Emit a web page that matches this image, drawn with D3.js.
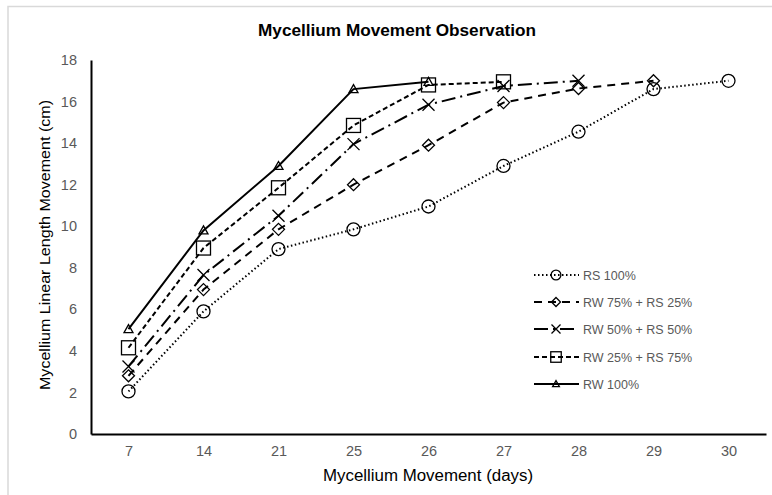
<!DOCTYPE html>
<html><head><meta charset="utf-8">
<script src="https://cdn.jsdelivr.net/npm/d3@7"></script>
<style>body{margin:0;background:#fff}svg{display:block}</style>
</head><body><svg id="c" width="772" height="495"></svg>
<script>
const days = ["7","14","21","25","26","27","28","29","30"];
const yTicks = [0,2,4,6,8,10,12,14,16,18];
const seriesNames = ["RS 100%","RW 75% + RS 25%","RW 50% + RS 50%","RW 25% + RS 75%","RW 100%"];
const rs100 = [2.05,5.9,8.9,9.85,10.95,12.9,14.55,16.6,17.0];
const rw75 = [2.8,6.95,9.85,12.0,13.9,15.95,16.63,17.0];
const rw50 = [3.25,7.65,10.5,13.95,15.85,16.75,17.0];
const rw25 = [4.15,8.95,11.85,14.85,16.8,16.95];
const rw100 = [5.05,9.8,12.9,16.6,16.95];
const seriesValues = [rs100,rw75,rw50,rw25,rw100];

const styles = [
  {dash:"1.5,2.5", marker:"circle"},
  {dash:"8,6", marker:"diamond"},
  {dash:"14,5,2,5", marker:"x"},
  {dash:"5,3", marker:"square"},
  {dash:null, marker:"triangle"}
];

const svg = d3.select("#c");
svg.append("rect").attr("x",8).attr("y",6.5).attr("width",780).attr("height",500)
  .attr("fill","#fff").attr("stroke","#d9d9d9").attr("stroke-width",1.5);

const L=91, R=766, T=60, B=434;
const x = d3.scalePoint().domain(days).range([L,R]).padding(0.5);
const y = d3.scaleLinear().domain([0,18]).range([B,T]);

svg.append("text").attr("x",397).attr("y",36).attr("text-anchor","middle")
  .attr("font-family","Liberation Sans, Arial, sans-serif")
  .attr("font-weight","bold").attr("font-size",16).attr("fill","#000")
  .attr("textLength",278).attr("lengthAdjust","spacingAndGlyphs")
  .text("Mycellium Movement Observation");

const gy = svg.append("g").attr("transform",`translate(${L},0)`)
  .call(d3.axisLeft(y).tickValues(yTicks).tickSize(0).tickPadding(14));
gy.select(".domain").attr("stroke","#000").attr("stroke-width",2);
gy.selectAll("text").attr("font-family","Liberation Sans, Arial, sans-serif").attr("font-size",14.5).attr("fill","#595959");

const gx = svg.append("g").attr("transform",`translate(0,${B})`)
  .call(d3.axisBottom(x).tickSize(0).tickPadding(12));
gx.select(".domain").attr("stroke","#000").attr("stroke-width",2);
gx.selectAll("text").attr("font-family","Liberation Sans, Arial, sans-serif").attr("font-size",14.5).attr("fill","#595959");

svg.append("text").attr("x",428).attr("y",481).attr("text-anchor","middle")
  .attr("font-family","Liberation Sans, Arial, sans-serif").attr("font-size",16).attr("fill","#000")
  .attr("textLength",210).attr("lengthAdjust","spacingAndGlyphs")
  .text("Mycellium Movement (days)");
svg.append("text").attr("transform",`translate(50,245) rotate(-90)`).attr("text-anchor","middle")
  .attr("font-family","Liberation Sans, Arial, sans-serif").attr("font-size",15).attr("fill","#000")
  .attr("textLength",290).attr("lengthAdjust","spacingAndGlyphs")
  .text("Mycellium Linear Length Movement (cm)");

function drawMarker(g, type, cx, cy, sc){
  const s = g.append("g").attr("transform",`translate(${cx},${cy}) scale(${sc||1})`)
    .attr("fill","none").attr("stroke","#000").attr("stroke-width",1.3/(sc||1));
  if(type==="circle") s.append("circle").attr("r",6.5);
  else if(type==="diamond") s.append("path").attr("d","M0,-6L6,0L0,6L-6,0Z");
  else if(type==="x") s.append("path").attr("d","M-6,-6L6,6M-6,6L6,-6");
  else if(type==="square") s.append("rect").attr("x",-7).attr("y",-7).attr("width",14).attr("height",14);
  else if(type==="triangle") s.append("path").attr("d","M0,-4.5L4.5,3.5L-4.5,3.5Z");
}

const line = d3.line().x((d,i)=>x(days[i])).y(d=>y(d));
seriesValues.forEach((vals,k)=>{
  const st = styles[k];
  const g = svg.append("g");
  g.append("path").datum(vals).attr("d",line).attr("fill","none").attr("stroke","#000")
    .attr("stroke-width",2).attr("stroke-dasharray",st.dash);
  vals.forEach((v,i)=>drawMarker(g, st.marker, x(days[i]), y(v)));
});

// legend
const legY = [275,302,329,357,384];
seriesNames.forEach((name,k)=>{
  const st = styles[k];
  const g = svg.append("g");
  g.append("line").attr("x1",534).attr("x2",579).attr("y1",legY[k]).attr("y2",legY[k])
    .attr("stroke","#000").attr("stroke-width",2).attr("stroke-dasharray",st.dash);
  drawMarker(g, st.marker, 556, legY[k], 0.75);
  g.append("text").attr("x",583).attr("y",legY[k]+4.5)
    .attr("font-family","Liberation Sans, Arial, sans-serif").attr("font-size",12.5).attr("fill","#595959")
    .text(name);
});
</script></body></html>
